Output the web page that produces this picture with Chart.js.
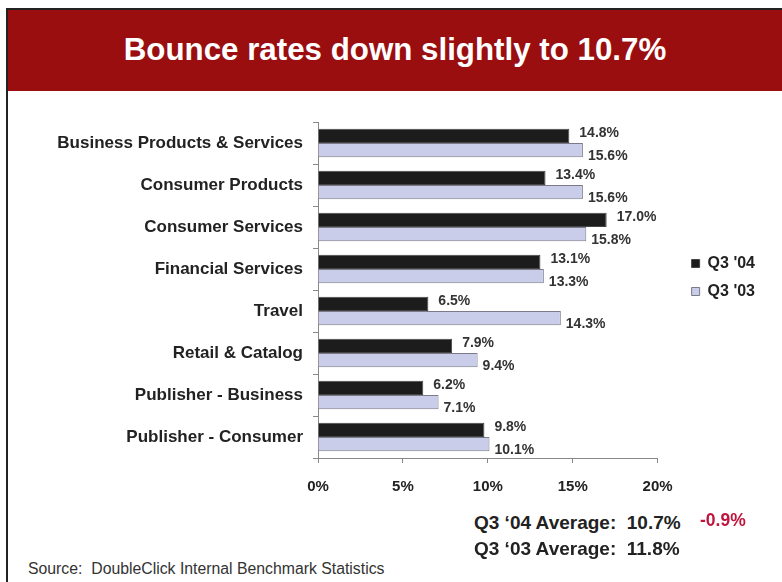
<!DOCTYPE html>
<html>
<head>
<meta charset="utf-8">
<script src="https://cdn.jsdelivr.net/npm/chart.js@4"></script>
<style>
  html, body { margin: 0; padding: 0; background: #fff; }
  body { width: 782px; height: 582px; position: relative; overflow: hidden; font-family: "Liberation Sans", Arial, sans-serif; }
  #frame { position: absolute; left: 6px; top: 8px; width: 790px; height: 600px; border-left: 2px solid #222; border-top: 2px solid #222; }
  #header { position: absolute; left: 8px; top: 10px; width: 774px; height: 81px; background: #9b0e10; color: #fff; font-weight: bold; font-size: 31.3px; text-align: center; line-height: 79px; }
  #wrap { position: absolute; left: 0; top: 100px; width: 782px; height: 411px; }
  .avg { position: absolute; left: 474px; font-weight: bold; font-size: 19px; line-height: 22px; color: #222; white-space: pre; }
  #delta { position: absolute; left: 700px; top: 510px; font-weight: bold; font-size: 17.5px; line-height: 20px; color: #c0143c; }
  #source { position: absolute; left: 28px; top: 560px; font-size: 15.8px; line-height: 18px; color: #333; white-space: pre; }
</style>
</head>
<body>
<div id="frame"></div>
<div id="header">Bounce rates down slightly to 10.7%</div>
<div id="wrap"><canvas id="chart"></canvas></div>
<div class="avg" style="top:512px;">Q3 ‘04 Average:  10.7%</div>
<div id="delta">-0.9%</div>
<div class="avg" style="top:538px;">Q3 ‘03 Average:  11.8%</div>
<div id="source">Source:  DoubleClick Internal Benchmark Statistics</div>
<script>
const categories = ['Business Products & Services', 'Consumer Products', 'Consumer Services',
  'Financial Services', 'Travel', 'Retail & Catalog', 'Publisher - Business', 'Publisher - Consumer'];
const q304 = [14.8, 13.4, 17.0, 13.1, 6.5, 7.9, 6.2, 9.8];
const q303 = [15.6, 15.6, 15.8, 13.3, 14.3, 9.4, 7.1, 10.1];
const seriesNames = ["Q3 '04", "Q3 '03"];
const xTicks = [0, 5, 10, 15, 20];

const FONT = '"Liberation Sans", Arial, sans-serif';

// value labels to the right of each bar
const barLabels = {
  id: 'barLabels',
  afterDatasetsDraw(chart) {
    const ctx = chart.ctx;
    ctx.save();
    ctx.font = 'bold 14px ' + FONT;
    ctx.fillStyle = '#333';
    ctx.textBaseline = 'middle';
    chart.data.datasets.forEach((ds, i) => {
      chart.getDatasetMeta(i).data.forEach((bar, j) => {
        const dx = i === 0 ? 10 : 5;
        const dy = i === 0 ? -2.5 : 6.5;
        ctx.fillText(ds.data[j].toFixed(1) + '%', bar.x + dx, bar.y + dy);
      });
    });
    ctx.restore();
  }
};

// nudge the legend to where the original sits
const legendShift = {
  id: 'legendShift',
  afterLayout(chart) {
    const lg = chart.legend;
    lg.left += 22; lg.right += 22;
    lg.top -= 39; lg.bottom -= 39;
  }
};

new Chart(document.getElementById('chart'), {
  type: 'bar',
  data: {
    labels: categories,
    datasets: [
      { label: seriesNames[0], data: q304, backgroundColor: '#1c1c1c', borderColor: '#444', borderWidth: 1 },
      { label: seriesNames[1], data: q303, backgroundColor: '#c9cde9', borderColor: '#7a7a88', borderWidth: 1 }
    ]
  },
  options: {
    indexAxis: 'y',
    responsive: true,
    maintainAspectRatio: false,
    animation: false,
    categoryPercentage: 0.68,
    barPercentage: 1.0,
    layout: { padding: { top: 22, bottom: 0, left: 0, right: 39 } },
    plugins: {
      tooltip: { enabled: false },
      legend: {
        position: 'right',
        labels: {
          boxWidth: 8, boxHeight: 8, padding: 12,
          color: '#222',
          font: { family: FONT, size: 16, weight: 'bold' }
        }
      }
    },
    scales: {
      x: {
        min: 0, max: 20,
        afterBuildTicks: s => { s.ticks = xTicks.map(v => ({ value: v })); },
        border: { color: '#888' },
        grid: { drawOnChartArea: false, drawTicks: true, tickLength: 5, color: '#888' },
        ticks: {
          callback: v => v + '%',
          color: '#222', padding: 15,
          font: { family: FONT, size: 15, weight: 'bold' }
        }
      },
      y: {
        afterFit: s => { s.width = 318; },
        border: { color: '#888' },
        grid: { drawOnChartArea: false, drawTicks: true, tickLength: 5, offset: true, color: '#888' },
        ticks: {
          color: '#222', padding: 10,
          font: { family: FONT, size: 17, weight: 'bold' }
        }
      }
    }
  },
  plugins: [barLabels, legendShift]
});
</script>
</body>
</html>
